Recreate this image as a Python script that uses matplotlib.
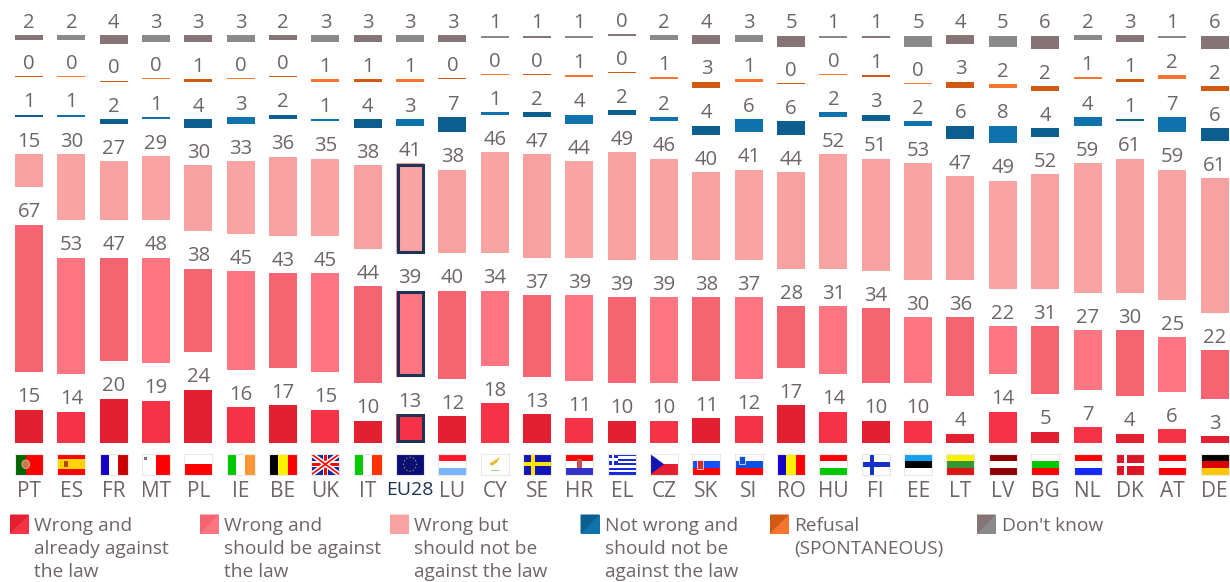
import matplotlib
matplotlib.use("Agg")
import matplotlib.pyplot as plt
import numpy as np
from matplotlib.patches import Circle, Polygon, Rectangle

countries = ["PT", "ES", "FR", "MT", "PL", "IE", "BE", "UK", "IT", "EU28", "LU", "CY", "SE", "HR", "EL",
             "CZ", "SK", "SI", "RO", "HU", "FI", "EE", "LT", "LV", "BG", "NL", "DK", "AT", "DE"]
already_against = [15, 14, 20, 19, 24, 16, 17, 15, 10, 13, 12, 18, 13, 11, 10,
                   10, 11, 12, 17, 14, 10, 10, 4, 14, 5, 7, 4, 6, 3]
should_be_against = [67, 53, 47, 48, 38, 45, 43, 45, 44, 39, 40, 34, 37, 39, 39,
                     39, 38, 37, 28, 31, 34, 30, 36, 22, 31, 27, 30, 25, 22]
not_against = [15, 30, 27, 29, 30, 33, 36, 35, 38, 41, 38, 46, 47, 44, 49,
               46, 40, 41, 44, 52, 51, 53, 47, 49, 52, 59, 61, 59, 61]
not_wrong = [1, 1, 2, 1, 4, 3, 2, 1, 4, 3, 7, 1, 2, 4, 2,
             2, 4, 6, 6, 2, 3, 2, 6, 8, 4, 4, 1, 7, 6]
refusal = [0, 0, 0, 0, 1, 0, 0, 1, 1, 1, 0, 0, 0, 1, 0,
           1, 3, 1, 0, 0, 1, 0, 3, 2, 2, 1, 1, 2, 2]
dont_know = [2, 2, 4, 3, 3, 3, 2, 3, 3, 3, 3, 1, 1, 1, 0,
             2, 4, 3, 5, 1, 1, 5, 4, 5, 6, 2, 3, 1, 6]

series = [already_against, should_be_against, not_against, not_wrong, refusal, dont_know]
legend_labels = ["Wrong and\nalready against\nthe law", "Wrong and\nshould be against\nthe law",
                 "Wrong but\nshould not be\nagainst the law", "Not wrong and\nshould not be\nagainst the law",
                 "Refusal\n(SPONTANEOUS)", "Don't know"]
# dark / light shade, they alternate from one country to the next
shades = [("#E32032", "#F53246"), ("#F76471", "#FF7682"), ("#F7A1A1", "#F9A3A3"),
          ("#0B5E8F", "#1072AD"), ("#D05A14", "#F9742C"), ("#857375", "#8A8A8A")]
legend_x = [10, 200, 390, 580.5, 770, 977]

text_col = "#6E6567"
navy = "#1D3358"
px_per_unit = 2.2
gap = 17
base_px = 442.5
plt.rcParams["font.family"] = ["Open Sans", "DejaVu Sans"]

R, W, B, G, Y, K = "#FF0000", "#FFFFFF", "#1400C8", "#00C800", "#FFF000", "#000000"


def stripes(f, cols, vertical=False):
    n = len(cols)
    for i, c in enumerate(cols):
        if vertical:
            f.add_patch(Rectangle((i * 3 / n, 0), 3 / n, 2, color=c, lw=0))
        else:
            f.add_patch(Rectangle((0, 2 - (i + 1) * 2 / n), 3, 2 / n, color=c, lw=0))


def cross(f, col, x=1.1, w=0.5):
    f.add_patch(Rectangle((x - w / 2, 0), w, 2, color=col, lw=0))
    f.add_patch(Rectangle((0, 1 - w / 2), 3, w, color=col, lw=0))


def draw_flag(f, code):
    simple = {
        "FR": (["#1400C8", W, "#CC0000"], True), "IE": (["#00C800", W, "#FF9632"], True),
        "BE": ([K, "#FFF000", R], True), "IT": (["#00C800", W, "#FF3200"], True),
        "RO": (["#1400C8", "#FFF000", R], True), "PL": ([W, R], False),
        "LU": (["#FF1428", W, "#78B4FF"], False), "HR": ([R, W, "#3232C8"], False),
        "SK": ([W, "#1450FF", R], False), "SI": ([W, "#0A50E6", R], False),
        "HU": ([R, W, "#00C800"], False), "EE": (["#14A0F0", K, W], False),
        "LT": (["#FFF000", "#329632", "#DC1414"], False), "LV": (["#8C0000", W, "#8C0000"], False),
        "BG": ([W, "#00C800", R], False), "NL": ([R, W, "#1428FF"], False),
        "AT": ([R, W, R], False), "DE": ([K, "#DC0000", "#FFC800"], False),
    }
    if code in simple:
        stripes(f, simple[code][0], simple[code][1])
    if code == "PT":
        f.add_patch(Rectangle((0, 0), 3, 2, color=R, lw=0))
        f.add_patch(Rectangle((0, 0), 1.2, 2, color="#006400", lw=0))
        f.add_patch(Circle((1.15, 1), 0.42, fc="#C87850", ec="#D8C070", lw=0.6))
    elif code == "ES":
        stripes(f, [R, "#FFD200", "#FFD200", R])
        f.add_patch(Rectangle((0.7, 0.7), 0.45, 0.6, color="#C04020", lw=0))
    elif code == "MT":
        f.add_patch(Rectangle((1.5, 0), 1.5, 2, color=R, lw=0))
        f.add_patch(Rectangle((0.2, 1.4), 0.3, 0.3, color="#777777", lw=0))
    elif code == "UK":
        f.add_patch(Rectangle((0, 0), 3, 2, color="#1428A0", lw=0))
        f.plot([0, 3], [0, 2], color=W, lw=3.5, solid_capstyle="butt")
        f.plot([0, 3], [2, 0], color=W, lw=3.5, solid_capstyle="butt")
        f.plot([0, 3], [0, 2], color=R, lw=1.2, solid_capstyle="butt")
        f.plot([0, 3], [2, 0], color=R, lw=1.2, solid_capstyle="butt")
        f.add_patch(Rectangle((1.2, 0), 0.6, 2, color=W, lw=0))
        f.add_patch(Rectangle((0, 0.7), 3, 0.6, color=W, lw=0))
        f.add_patch(Rectangle((1.35, 0), 0.3, 2, color=R, lw=0))
        f.add_patch(Rectangle((0, 0.85), 3, 0.3, color=R, lw=0))
    elif code == "EU":
        f.add_patch(Rectangle((0, 0), 3, 2, color="#0A0F78", lw=0))
        for a in np.arange(0, 360, 30):
            f.add_patch(Circle((1.5 + 0.95 * np.cos(np.radians(a)) * 0.72, 1 + 0.95 * np.sin(np.radians(a)) * 0.72),
                               0.06, color="#E6C800", lw=0))
    elif code == "CY":
        f.add_patch(Polygon([[0.9, 1.05], [1.9, 1.6], [2.1, 1.75], [1.7, 1.15], [1.2, 0.85]], color="#F0B428", lw=0))
        f.add_patch(Rectangle((1.05, 0.3), 0.9, 0.18, color="#96DC78", lw=0))
    elif code == "SE":
        f.add_patch(Rectangle((0, 0), 3, 2, color="#1414B4", lw=0))
        cross(f, "#FFE600", 1.1, 0.42)
    elif code == "EL":
        stripes(f, ["#1428DC", W, "#1428DC", W, "#1428DC", W, "#1428DC", W, "#1428DC"])
        f.add_patch(Rectangle((0, 0.9), 1.1, 1.1, color="#1428DC", lw=0))
        f.add_patch(Rectangle((0, 1.35), 1.1, 0.22, color=W, lw=0))
        f.add_patch(Rectangle((0.45, 0.9), 0.22, 1.1, color=W, lw=0))
    elif code == "CZ":
        stripes(f, [W, "#E61E32"])
        f.add_patch(Polygon([[0, 0], [0, 2], [1.5, 1]], color="#1414B4", lw=0))
    elif code == "FI":
        cross(f, "#1432C8", 1.1, 0.5)
    elif code == "DK":
        f.add_patch(Rectangle((0, 0), 3, 2, color="#DC1428", lw=0))
        cross(f, W, 1.0, 0.32)
    elif code == "HR":
        f.add_patch(Rectangle((1.2, 0.6), 0.6, 0.95, color="#C85050", lw=0))
    elif code == "SK":
        f.add_patch(Rectangle((0.5, 0.55), 0.65, 0.9, color="#DC2828", ec=W, lw=0.5))
    elif code == "SI":
        f.add_patch(Rectangle((0.45, 1.05), 0.6, 0.75, color="#1450C8", ec=W, lw=0.5))


fig = plt.figure(figsize=(12.3, 5.82), dpi=100)
ax = fig.add_axes([0, (582 - base_px) / 582, 1, base_px / 582])
spacing = 42.34
first = 29
ax.set_xlim(-first / spacing, (1230 - first) / spacing)
ax.set_ylim(0, base_px / px_per_unit)
x = np.arange(len(countries))
bar_width = 28 / spacing

bottom = np.zeros(len(countries))
for s, values in enumerate(series):
    values = np.array(values, dtype=float)
    colors = [shades[s][i % 2] for i in x]
    # zero answers still show as a hairline in the original
    heights = np.maximum(values, 0.5)
    ax.bar(x, heights, bottom=bottom, width=bar_width, color=colors, linewidth=0)
    for i in x:
        ax.annotate(f"{int(values[i])}", (i, bottom[i] + heights[i]), xytext=(0, 5.2), textcoords="offset points",
                    ha="center", va="baseline", fontsize=14.6, color=text_col)
    if s < 3:
        eu = countries.index("EU28")
        ax.bar(eu, heights[eu] - 1.4, bottom=bottom[eu] + 0.7, width=bar_width - 3 / spacing, color="none",
               edgecolor=navy, linewidth=2.2)
    bottom = bottom + values + gap

ax.set_xticks(x)
ax.set_xticklabels(countries, fontsize=15, color=text_col)
ax.tick_params(axis="x", length=0, pad=28)
ax.get_xticklabels()[countries.index("EU28")].set_color(navy)
ax.get_xticklabels()[countries.index("EU28")].set_fontsize(14)
ax.set_yticks([])
for sp in ax.spines.values():
    sp.set_visible(False)

# flags, each in its own small axes under the bars
for i, code in enumerate(countries):
    left = (first + spacing * i - 14) / 1230
    f = fig.add_axes([left, (582 - 474.5) / 582, 28 / 1230, 20.5 / 582])
    f.set_xlim(0, 3)
    f.set_ylim(0, 2)
    f.set_xticks([])
    f.set_yticks([])
    f.set_facecolor("white")
    for sp in f.spines.values():
        sp.set_color("#E8E8E8")
        sp.set_linewidth(0.8)
    draw_flag(f, code[:2])

# legend: split-colour swatches and wrapped text
overlay = fig.add_axes([0, 0, 1, 1], facecolor="none")
overlay.set_xlim(0, 1230)
overlay.set_ylim(582, 0)
overlay.axis("off")
for s, lab in enumerate(legend_labels):
    lx = legend_x[s]
    size = 19
    top = 514.5
    overlay.add_patch(Rectangle((lx, top), size, size, color=shades[s][1], lw=0))
    overlay.add_patch(Polygon([[lx, top], [lx + size, top], [lx, top + size]], color=shades[s][0], lw=0))
    for k, line in enumerate(lab.split("\n")):
        overlay.text(lx + 24.5, 531 + 23 * k, line, fontsize=13.8, color=text_col, ha="left", va="baseline")

fig.savefig("out.png", dpi=100)
